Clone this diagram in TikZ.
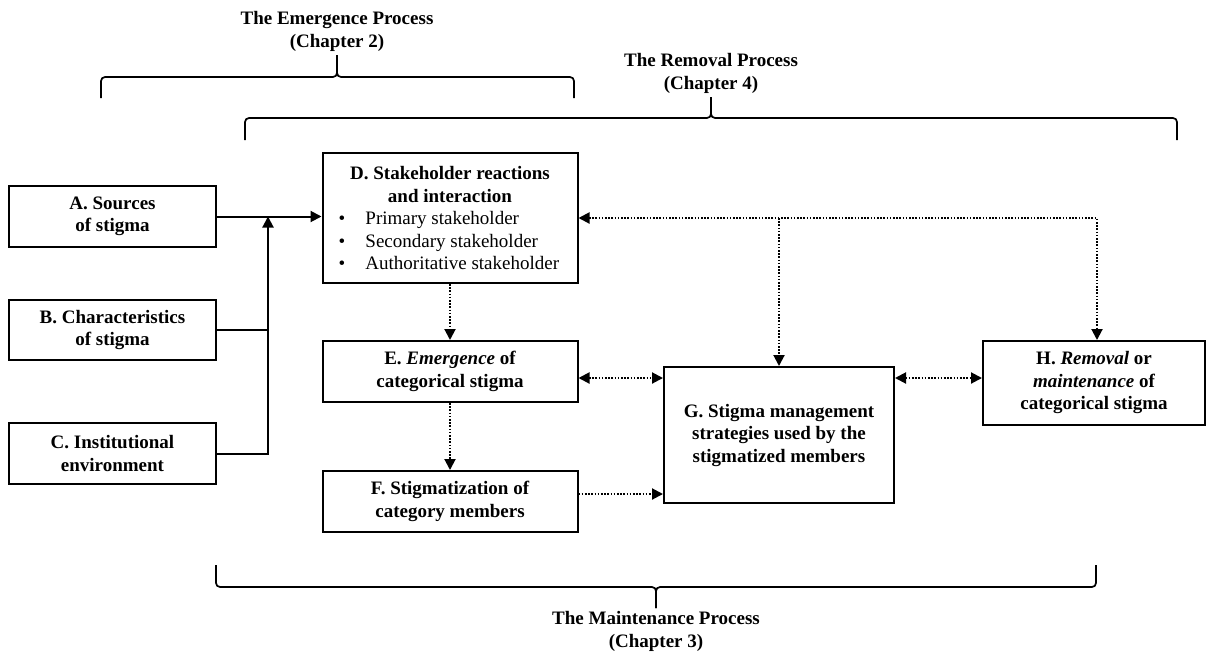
\documentclass[tikz,border=0pt]{standalone}
\usepackage{fontspec}
\setmainfont{Liberation Serif}
\usetikzlibrary{calc, positioning}
\usetikzlibrary{arrows.meta}

\begin{document}
\begin{tikzpicture}[x=1pt,y=-1pt,font=\fontsize{19}{22.5}\selectfont,
    stage/.style={draw,line width=2pt,inner sep=0pt,align=center,
        font=\fontsize{19}{22.5}\selectfont\bfseries},
    heading/.style={align=center,inner sep=0pt,
        font=\fontsize{19}{23}\selectfont\bfseries},
    feed/.style={line width=2pt,-{Triangle[length=11pt,width=11pt]}},
    link/.style={line width=2pt,dash pattern=on 1.6pt off 1.6pt},
    oneway/.style={link,-{Triangle[length=11pt,width=11pt]}},
    twoway/.style={link,{Triangle[length=11pt,width=11pt]}-{Triangle[length=11pt,width=11pt]}},
    span/.style={line width=1.7pt,line join=round,rounded corners=4pt}]
\useasboundingbox (0,0) rectangle (1207,653);
\def\leftx{112.5}
\def\midx{450}
\def\bulletrow#1{\makebox[255pt][l]{\mdseries\hspace*{16pt}\makebox[27pt][l]{\textbullet}#1}}
\coordinate (Join) at (268,216.5);

\node[stage,minimum width=207pt,minimum height=61pt] (Sources) at (\leftx,216.5)
    {A. Sources\\of stigma};
\node[stage,minimum width=207pt,minimum height=60pt] (Traits) at (\leftx,330)
    {B. Characteristics\\of stigma};
\node[stage,minimum width=207pt,minimum height=61pt] (Setting) at (\leftx,453.5)
    {C. Institutional\\environment};

\node[stage,minimum width=255pt,minimum height=130pt] (Reactions) at (\midx,218)
    {D. Stakeholder reactions\\and interaction\\
     \bulletrow{Primary stakeholder}\\
     \bulletrow{Secondary stakeholder}\\
     \bulletrow{Authoritative stakeholder}};
\node[stage,minimum width=255pt,minimum height=61pt] (Emergence) at (\midx,371.5)
    {E. \textit{Emergence} of\\categorical stigma};
\node[stage,minimum width=255pt,minimum height=61pt] (Stigmatization) at (\midx,501.5)
    {F. Stigmatization of\\category members};
\node[stage,minimum width=230pt,minimum height=136pt] (Strategies) at (779,435)
    {G. Stigma management\\strategies used by the\\stigmatized members};
\node[stage,minimum width=222pt,minimum height=84pt] (Outcome) at (1094,383)
    {H. \textit{Removal} or\\\textit{maintenance} of\\categorical stigma};

\node[heading] (EmergenceTitle) at (337,31) {The Emergence Process\\(Chapter 2)};
\node[heading] (RemovalTitle) at (711,73) {The Removal Process\\(Chapter 4)};
\node[heading] (MaintenanceTitle) at (656,631) {The Maintenance Process\\(Chapter 3)};

\draw[span] (101,98) -- (101,77) -- (337,77) -- (337,55);
\draw[span] (574,98) -- (574,77) -- (337,77) -- (337,55);
\draw[span] (245,140) -- (245,118) -- (711,118) -- (711,97);
\draw[span] (1177,140) -- (1177,118) -- (711,118) -- (711,97);
\draw[span] (216,565) -- (216,587) -- (656,587) -- (656,608);
\draw[span] (1096,565) -- (1096,587) -- (656,587) -- (656,608);

\draw[feed] (Sources.east) -- (Sources.east -| Reactions.west);
\draw[line width=2pt] (Traits.east) -- (Traits.east -| Join);
\draw[feed] (Setting.east) -| (Join);

\coordinate (Row) at ([yshift=-6.5pt]Emergence.east);
\coordinate (Split) at (Reactions.east -| Strategies.north);
\draw[oneway] (Reactions.south) -- (Emergence.north);
\draw[oneway] (Emergence.south) -- (Stigmatization.north);
\draw[twoway] (Row) -- (Row -| Strategies.west);
\draw[oneway] ([yshift=7.5pt]Stigmatization.east)
    -- ([yshift=7.5pt]Stigmatization.east -| Strategies.west);
\draw[twoway] (Row -| Strategies.east) -- (Row -| Outcome.west);
\draw[twoway] (Reactions.east) -| ([xshift=3pt]Outcome.north);
\draw[oneway] (Split) -- (Strategies.north);
\end{tikzpicture}
\end{document}
